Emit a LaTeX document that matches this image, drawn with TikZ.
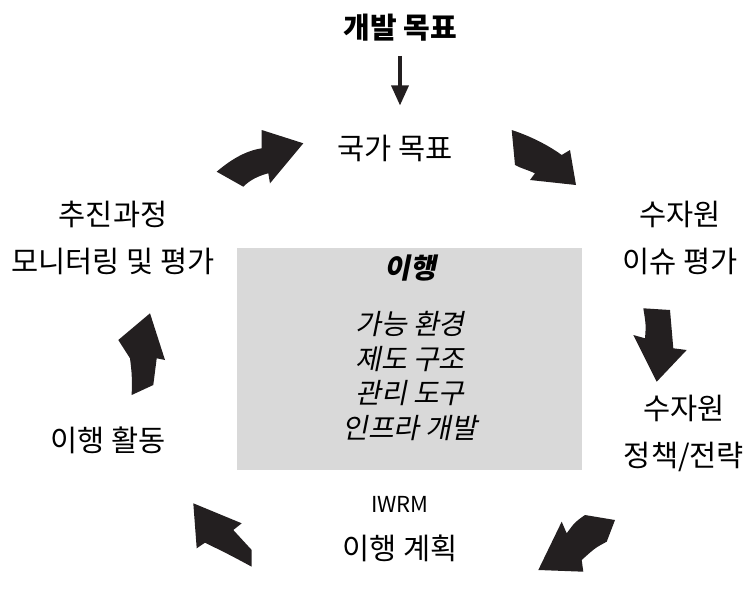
\documentclass[tikz,border=0pt]{standalone}
\usepackage{fontspec}
\setmainfont{Noto Sans CJK KR}
\newfontfamily\krit[FakeSlant=0.2]{Noto Sans CJK KR}
\usetikzlibrary{arrows.meta}
\definecolor{arrowdark}{HTML}{231F20}
\definecolor{boxgray}{HTML}{D9D9D9}
\tikzset{
  lbl/.style={inner sep=0pt, align=center, font=\fontsize{29.5}{47}\selectfont},
  boxlbl/.style={inner sep=0pt, align=center, font=\krit\fontsize{28}{34.5}\selectfont},
  blockarrow/.style={fill=arrowdark, draw=none},
}
\begin{document}
\begin{tikzpicture}[x=1pt,y=-1pt]
\useasboundingbox (0,0) rectangle (747,594);
% central box
\node[fill=boxgray, minimum width=345pt, minimum height=222pt, inner sep=0pt] (box) at (409.5,359) {};
\node[boxlbl, font=\krit\bfseries\fontsize{28}{30}\selectfont] (impl) at (410,268) {이행};
\node[boxlbl] (items) at (410,376) {가능 환경\\제도 구조\\관리 도구\\인프라 개발};
% labels
\node[lbl, font=\bfseries\fontsize{29}{30}\selectfont] (goal) at (400,28) {개발 목표};
\node[lbl] (national) at (395,148) {국가 목표};
\node[lbl] (issue) at (680,238) {수자원\\이슈 평가};
\node[lbl] (policy) at (684,433) {수자원\\정책/전략};
\node[lbl] (plan) at (400,529) {{\fontsize{22}{47}\selectfont IWRM}\\이행 계획};
\node[lbl] (activity) at (108,440) {이행 활동};
\node[lbl] (monitor) at (113,238) {추진과정\\모니터링 및 평가};
% small arrow
\draw[line width=3.5pt, color=arrowdark, -{Triangle[length=20pt,width=17pt]}] ([yshift=-14pt]goal.south) -- ([yshift=29pt]goal.south |- national.north);
% block arrows
\fill[blockarrow] (216.7,171.7) .. controls (235,156) and (250,150) .. (261.7,148.3) -- (261.7,130) -- (303.3,143.3) -- (270,183.3) -- (268.3,173.3) .. controls (258,176) and (250,180) .. (243.3,186.7) -- cycle;
\fill[blockarrow] (511.7,130) .. controls (530,136) and (548,145) .. (561.7,155) -- (570,150) -- (576,185) -- (530,180) -- (535,173.3) .. controls (528,170) and (520,168) .. (515,165) -- cycle;
\fill[blockarrow] (643.3,308.3) -- (670,310) -- (673.3,348.3) -- (686.7,350) -- (656.7,381.7) -- (633.3,335) -- (645,338.3) .. controls (646,325) .. cycle;
\fill[blockarrow] (585,515) -- (615,520) -- (606.7,541.7) .. controls (595,548) .. (581.7,560) -- (583.3,571.7) -- (538.3,570) -- (561.7,521.7) -- (566.7,533.3) .. controls (575,522) .. cycle;
\fill[blockarrow] (193.3,503.3) -- (241.7,523.3) -- (233.3,530) .. controls (242,540) .. (251.7,550) -- (251.7,566.7) .. controls (230,555) .. (205,542.7) -- (196.7,548.3) -- cycle;
\fill[blockarrow] (150,313.3) -- (165,360) -- (156.7,358.3) .. controls (155,372) .. (153.3,385) -- (131.7,395) .. controls (132,375) .. (130,358.3) -- (118.3,340) -- cycle;
\end{tikzpicture}
\end{document}
